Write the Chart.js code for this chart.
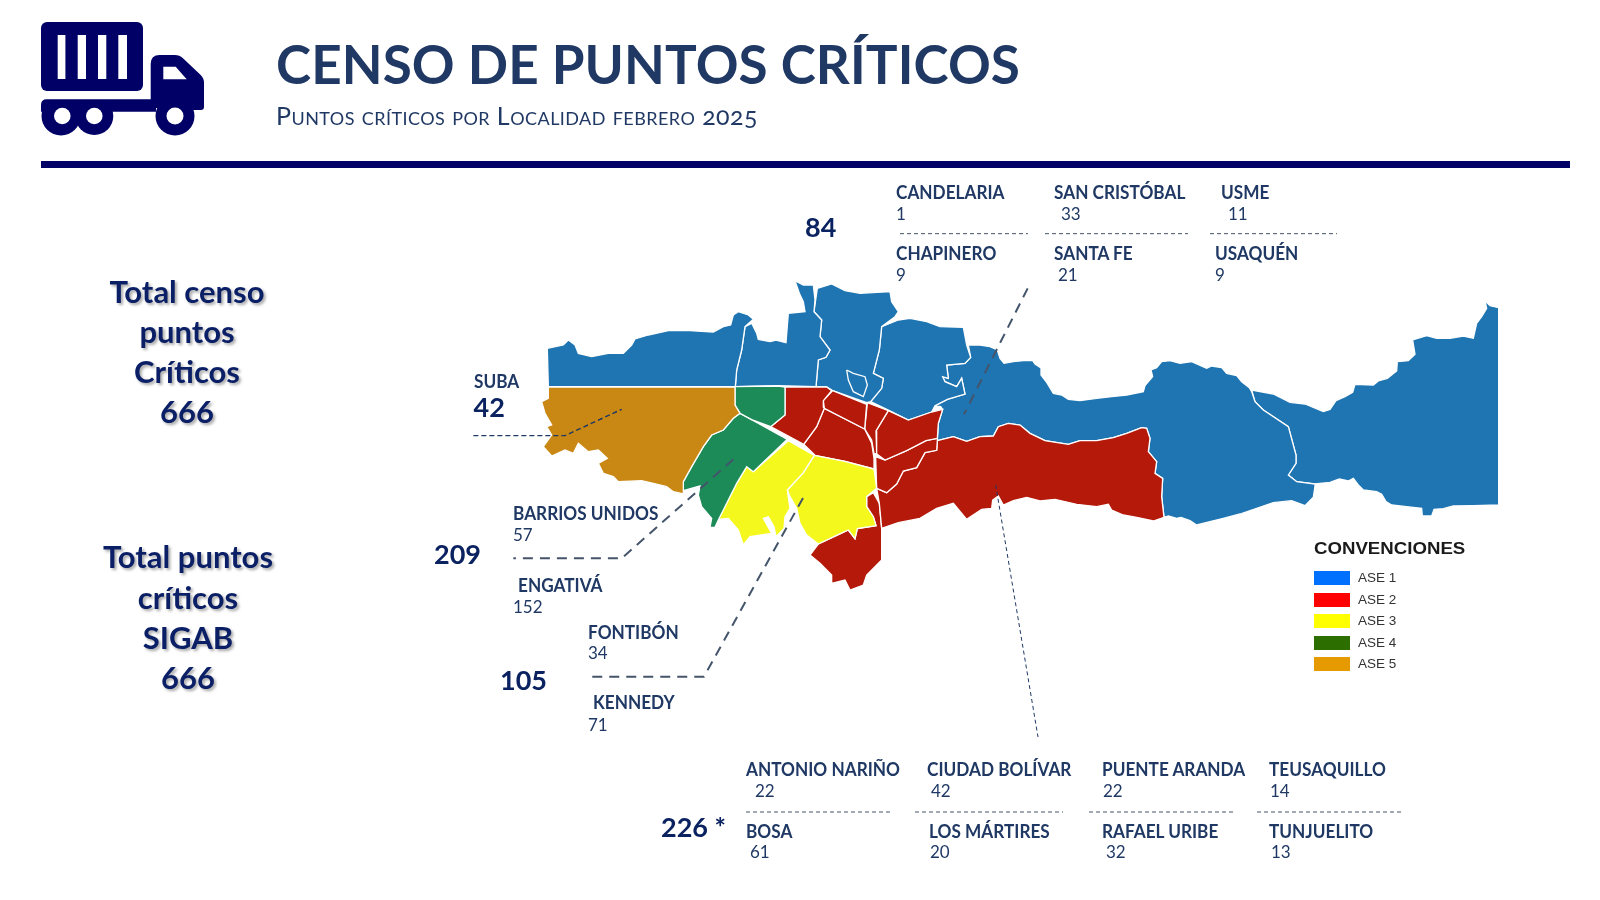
<!DOCTYPE html>
<html lang="es"><head><meta charset="utf-8"><title>Censo de puntos críticos</title>
<script src="https://cdn.jsdelivr.net/npm/chart.js@4"></script>
<style>
html,body{margin:0;padding:0;background:#fff;width:1600px;height:900px;overflow:hidden}
#wrap{position:relative;width:1600px;height:900px}
canvas{position:absolute;left:0;top:0}
.t{position:absolute;white-space:nowrap;line-height:0;font-family:Lato,sans-serif}
.name{font-weight:700;font-size:18.5px;color:#1f3864;transform:scaleX(.93);transform-origin:0 0}
.val{font-size:17px;color:#1f3864}
.big{font-weight:700;font-size:27px;color:#0a2260}
.tot{font-weight:700;font-size:31px;color:#0a1f66;text-shadow:2px 2px 3px rgba(0,0,0,.35);transform:translateX(-50%)}
.lg{font-family:"Liberation Sans",sans-serif;color:#333;font-size:13.500px}
.sw{position:absolute;width:36px;height:14px}
</style></head><body><div id="wrap">
<canvas id="c" width="1600" height="900"></canvas>
<svg style="position:absolute;left:0;top:0" width="260" height="150" viewBox="0 0 260 150">
<defs><clipPath id="low"><rect x="0" y="100" width="260" height="50"/></clipPath></defs>
<rect x="41" y="22" width="102" height="69" rx="6" fill="#000066"/>
<g fill="#fff"><rect x="57.7" y="35" width="7.7" height="44"/><rect x="77.7" y="35" width="8.3" height="44"/><rect x="98" y="35" width="8.3" height="44"/><rect x="118.3" y="35" width="8.7" height="44"/></g>
<path d="M150.7 104V64q0-9 9-9h15q5 0 8 3l18 17q3.300 3 3.300 8v24q0 3-3 3h-8v-2H150.700z" fill="#000066"/>
<path d="M41 105q0-5.700 5.700-5.700H156v12.400H41z" fill="#000066"/>
<g clip-path="url(#low)" fill="#000066"><circle cx="61" cy="116" r="19.500"/><circle cx="94.300" cy="116" r="19"/><circle cx="175" cy="116" r="19.500"/></g>
<circle cx="62.300" cy="116" r="8.300" fill="#fff"/><circle cx="94.300" cy="116" r="8.300" fill="#fff"/><circle cx="175" cy="116" r="8.500" fill="#fff"/>
<path d="M163.300 66.700h12.400l11 12.600h-23.400z" fill="#fff"/>
</svg>
<div style="position:absolute;left:41px;top:161px;width:1529px;height:7px;background:#000066"></div>
<div id="labels"></div>
</div>
<script>
// ---- text data ----
const localityNames=["CANDELARIA","SAN CRISTÓBAL","USME","CHAPINERO","SANTA FE","USAQUÉN","SUBA","BARRIOS UNIDOS","ENGATIVÁ","FONTIBÓN","KENNEDY","ANTONIO NARIÑO","CIUDAD BOLÍVAR","PUENTE ARANDA","TEUSAQUILLO","BOSA","LOS MÁRTIRES","RAFAEL URIBE","TUNJUELITO"];
const localityValues=[1,33,11,9,21,9,null,57,152,34,71,22,42,22,14,61,20,32,13];
const groupTotals=["84","42","209","105","226 *"];
const summaryCenso=["Total censo","puntos","Críticos","666"];
const summarySigab=["Total puntos","críticos","SIGAB","666"];
const legendNames=["ASE 1","ASE 2","ASE 3","ASE 4","ASE 5"];
const legendColors=["#0070ff","#ff0000","#ffff00","#2c6e00","#e59b00"];
const mapColors=["#1f75b2","#b5190a","#f4f81d","#1c8b58","#c98713"];
// ---- map geometry, in map units ----
const ase1a=[[85,350],[82,235],[130,225],[145,210],[165,225],[175,250],[215,260],[265,250],[310,250],[335,225],[345,207],[385,195],[445,182],[510,182],[580,186],[610,170],[632,165],[640,135],[655,125],[685,135],[700,148],[675,170],[665,240],[650,300],[646,350]];
const ase1b=[[646,350],[650,300],[665,240],[675,170],[695,160],[710,190],[715,208],[750,215],[768,210],[798,218],[805,130],[855,125],[850,95],[838,70],[825,32],[850,45],[880,45],[885,90],[882,125],[905,150],[900,200],[930,240],[918,262],[895,270],[888,350],[775,347]];
const ase1c=[[888,350],[895,270],[918,262],[930,240],[900,200],[905,150],[882,125],[892,55],[935,42],[975,62],[1020,70],[1110,65],[1115,95],[1135,125],[1125,140],[1085,170],[1078,240],[1060,310],[1090,325],[1085,355],[1052,395],[1040,398],[938,362],[920,351]];
const ase1island=[[980,300],[985,330],[1000,365],[1030,380],[1042,345],[1035,320],[1000,310]];
const ase1d=[[1052,395],[1085,355],[1090,325],[1060,310],[1078,240],[1085,170],[1135,150],[1170,145],[1220,155],[1260,170],[1330,172],[1340,225],[1352,262],[1335,280],[1280,285],[1285,325],[1268,320],[1275,335],[1310,350],[1325,325],[1335,372],[1282,388],[1245,407],[1235,426],[1165,450],[1105,420]];
const ase1e=[[1345,225],[1380,225],[1410,230],[1432,240],[1440,265],[1452,280],[1480,275],[1510,272],[1538,272],[1545,282],[1565,295],[1563,315],[1580,337],[1600,370],[1625,375],[1645,388],[1680,392],[1730,385],[1775,380],[1820,375],[1870,365],[1875,347],[1898,320],[1893,300],[1910,293],[1925,275],[1950,272],[1980,280],[2015,275],[2060,295],[2075,288],[2105,293],[2120,310],[2150,317],[2165,335],[2188,353],[2195,365],[2205,395],[2230,420],[2305,470],[2328,555],[2328,580],[2305,615],[2330,635],[2385,642],[2385,648],[2380,682],[2355,707],[2315,692],[2260,698],[2210,715],[2160,732],[2110,745],[2030,765],[2010,752],[1983,742],[1970,745],[1945,738],[1932,742],[1925,680],[1928,625],[1905,610],[1910,575],[1885,545],[1890,505],[1880,475],[1865,473],[1820,490],[1780,503],[1730,512],[1680,512],[1645,523],[1575,512],[1530,490],[1500,465],[1465,460],[1435,470],[1420,498],[1380,500],[1340,514],[1300,500],[1252,512],[1255,460],[1268,418],[1262,410],[1245,407],[1282,388],[1335,372],[1325,325],[1310,350],[1275,335],[1268,320],[1285,325],[1280,285],[1335,280],[1352,262]];
const ase1f=[[2195,360],[2260,372],[2310,397],[2355,402],[2410,425],[2430,418],[2448,392],[2475,380],[2498,367],[2505,343],[2560,345],[2575,333],[2602,325],[2630,303],[2632,275],[2665,272],[2685,253],[2678,210],[2720,197],[2750,205],[2790,205],[2830,198],[2860,205],[2870,160],[2885,140],[2900,115],[2895,92],[2910,107],[2936,113],[2936,705],[2860,707],[2800,708],[2770,716],[2742,718],[2735,738],[2707,738],[2705,715],[2660,710],[2615,705],[2598,695],[2585,673],[2570,665],[2530,660],[2515,645],[2500,625],[2485,633],[2458,627],[2430,637],[2385,642],[2330,635],[2305,615],[2328,580],[2328,555],[2305,470],[2230,420],[2205,395]];
const ase2a=[[795,351],[920,351],[935,362],[910,392],[910,412],[913,415],[890,470],[851,523],[752,470],[795,435]];
const ase2b=[[938,362],[1040,403],[1034,477],[913,415],[910,392]];
const ase2c=[[913,415],[1034,477],[1055,520],[1062,565],[1062,597],[975,574],[885,556],[851,523],[890,470]];
const ase2d=[[1042,398],[1105,422],[1068,483],[1070,552],[1062,550],[1055,510],[1034,477],[1040,420]];
const ase2e=[[1105,422],[1165,450],[1235,426],[1268,418],[1255,460],[1252,505],[1218,512],[1160,542],[1095,570],[1070,552],[1068,483]];
const ase2f=[[1067,560],[1095,570],[1160,542],[1218,512],[1252,505],[1252,512],[1250,541],[1215,548],[1190,593],[1150,603],[1130,642],[1100,668],[1070,655]];
const ase2big=[[1252,512],[1300,500],[1340,514],[1380,500],[1420,498],[1435,470],[1465,460],[1500,465],[1530,490],[1575,512],[1645,523],[1680,512],[1730,512],[1780,503],[1820,490],[1865,473],[1880,475],[1890,505],[1885,545],[1910,575],[1905,610],[1928,625],[1925,680],[1932,742],[1900,753],[1850,742],[1810,735],[1775,720],[1765,703],[1730,710],[1670,703],[1605,688],[1560,693],[1520,682],[1480,692],[1450,705],[1435,678],[1418,690],[1415,715],[1385,718],[1340,748],[1300,700],[1250,715],[1200,745],[1135,758],[1085,775],[1078,700],[1070,655],[1100,668],[1130,642],[1150,603],[1190,593],[1215,548],[1250,541]];
const ase2south=[[1060,668],[1078,700],[1085,775],[1085,870],[1040,915],[1030,945],[990,960],[975,930],[935,940],[935,915],[900,880],[870,855],[895,822],[950,796],[985,780],[1005,806],[1012,776],[1068,767],[1060,740],[1040,710],[1040,680]];
const ase3a=[[805,512],[883,556],[850,608],[802,660],[810,715],[795,740],[792,775],[768,800],[762,770],[745,740],[730,745],[755,790],[690,800],[670,825],[655,780],[625,745],[595,748],[650,640],[680,590],[700,605]];
const ase3b=[[883,556],[975,574],[1062,597],[1070,655],[1040,680],[1040,710],[1060,740],[1068,767],[1012,776],[1005,806],[985,780],[950,796],[895,822],[860,795],[840,760],[830,715],[810,680],[802,660],[850,608]];
const ase4a=[[645,350],[775,348],[795,351],[795,435],[752,470],[695,449],[660,430],[645,405]];
const ase4b=[[660,430],[695,449],[802,508],[700,605],[680,590],[650,640],[620,700],[595,750],[585,772],[570,772],[575,745],[545,710],[535,675],[540,648],[490,662],[490,635],[515,590],[550,530],[575,495],[610,480],[640,445]];
const ase5=[[85,351],[645,351],[645,405],[660,430],[640,445],[610,480],[575,495],[550,530],[515,590],[490,635],[490,672],[460,665],[440,650],[400,640],[365,632],[295,635],[280,620],[250,610],[235,580],[262,565],[235,540],[205,545],[175,520],[160,550],[135,540],[95,558],[70,530],[95,495],[80,470],[95,465],[75,430],[65,395],[85,385]];
// ---- leader lines, in map units ----
const leaderSuba=[[-140,497],[135,497],[305,418]];
const leaderGreen=[[640,568],[305,865],[-20,865]];
const leaderYellow=[[849,684],[552,1220],[204,1220]];
const leaderBlue=[[1523,55],[1332,433]];
const leaderRed=[[1427,645],[1554,1401]];
const ruleTop=[[[1140,-109],[1524,-109]],[[1575,-109],[2004,-109]],[[2070,-109],[2451,-109]]];
const ruleBottom=[[[678,1626],[1113,1626]],[[1185,1626],[1629,1626]],[[1707,1626],[2145,1626]],[[2211,1626],[2646,1626]]];

const pts=a=>a.map(p=>({x:p[0],y:p[1]}));
const poly=(a,c)=>({data:pts(a.concat([a[0]])),showLine:true,fill:'shape',backgroundColor:c,borderColor:'#fff',borderWidth:1.3,pointRadius:0,tension:0});
const line=(a,c,w,d)=>({data:pts(a),showLine:true,fill:false,borderColor:c,borderWidth:w,borderDash:d,pointRadius:0,tension:0});
// Chart.js paints the first dataset last, so leaders come first
const datasets=[
 line(leaderSuba,'#1f3864',1.4,[5,3]),
 line(leaderGreen,'#44546a',2,[10,7]),
 line(leaderYellow,'#44546a',2,[10,7]),
 line(leaderBlue,'#44546a',2,[10,7]),
 line(leaderRed,'#1f3864',1,[4,3]),
 ...ruleTop.map(a=>line(a,'#44546a',1,[4,3])),
 ...ruleBottom.map(a=>line(a,'#44546a',1,[4,3])),
 poly(ase5,mapColors[4]),
 ...[ase4a,ase4b].map(a=>poly(a,mapColors[3])),
 ...[ase3a,ase3b].map(a=>poly(a,mapColors[2])),
 ...[ase2a,ase2b,ase2c,ase2d,ase2e,ase2f,ase2big,ase2south].map(a=>poly(a,mapColors[1])),
 ...[ase1island,ase1a,ase1b,ase1c,ase1d,ase1e,ase1f].map(a=>poly(a,mapColors[0]))
];
new Chart(document.getElementById('c'),{type:'scatter',data:{datasets},options:{
 responsive:false,animation:false,devicePixelRatio:1,layout:{padding:0},
 plugins:{legend:{display:false},tooltip:{enabled:false}},
 scales:{x:{type:'linear',display:false,min:-1560,max:3240},y:{type:'linear',display:false,min:-810,max:1890,reverse:true}}
}});
// ---- text layout ----
const nameX=[896,1054,1221,896,1054,1215,473.5,513,518,588,593,746,927,1102,1269,746,929,1102,1269];
const nameY=[192,192,192,253,253,253,381,513,585,632,702,769,769,769,769,830.5,830.5,830.5,830.5];
const valX=[896,1061,1228,896,1058,1215,0,513,513,588,588,755,931,1103,1270,750,930,1106,1271];
const valY=[214,214,214,275,275,275,0,535,607,653,725,791,791,791,791,852,852,852,852];
const totalX=[805,473.5,434,500,661];
const totalY=[227,407,554,680,827];
const L=document.getElementById('labels');
function put(txt,cls,x,y,extra){const e=document.createElement('div');e.className='t '+cls;e.textContent=txt;e.style.left=x+'px';e.style.top=y+'px';if(extra)e.style.cssText+=extra;L.appendChild(e);return e;}
put("CENSO DE PUNTOS CRÍTICOS","",276,64,"font-weight:700;font-size:53px;letter-spacing:.1px;color:#203864;");
put("Puntos críticos por Localidad febrero 2025","",276,114.5,"font-size:25px;letter-spacing:.45px;font-variant:small-caps;font-feature-settings:'onum';color:#1f3864;");
localityNames.forEach((n,i)=>{put(n,'name',nameX[i],nameY[i]);if(localityValues[i]!==null)put(String(localityValues[i]),'val',valX[i],valY[i]);});
groupTotals.forEach((n,i)=>put(n,'big',totalX[i],totalY[i]));
const censoY=[291,331,371,411],sigabY=[556,597,637,677];
summaryCenso.forEach((s,i)=>put(s,'tot',187,censoY[i]));
summarySigab.forEach((s,i)=>put(s,'tot',188,sigabY[i]));
put("CONVENCIONES","",1314,548,"font-family:'Liberation Sans',sans-serif;font-weight:700;font-size:16.5px;color:#1a1a1a;transform:scaleX(1.13);transform-origin:0 0;");
const swatchY=[571,593,614,636,657];
legendNames.forEach((n,i)=>{const s=document.createElement('div');s.className='sw';s.style.left='1314px';s.style.top=swatchY[i]+'px';s.style.background=legendColors[i];L.appendChild(s);put(n,'lg',1358,swatchY[i]+7);});
</script></body></html>
